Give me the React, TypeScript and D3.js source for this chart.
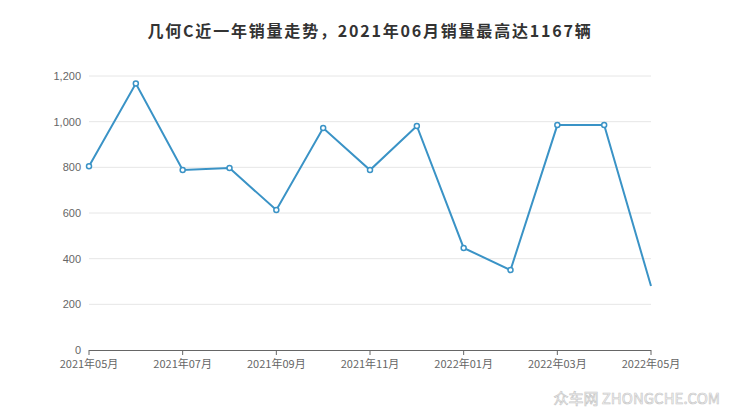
import React from "react";
import * as d3 from "d3";

const months = ["2021年05月","2021年06月","2021年07月","2021年08月","2021年09月","2021年10月","2021年11月","2021年12月","2022年01月","2022年02月","2022年03月","2022年04月","2022年05月"];
const sales = [805, 1167, 788, 797, 613, 972, 788, 981, 447, 350, 985, 985, 280];
const yTicks = [0, 200, 400, 600, 800, 1000, 1200];
const title = "几何C近一年销量走势，2021年06月销量最高达1167辆";

const W = 740, H = 417;
const left = 89, right = 651, top = 76, bottom = 350;

export default function App() {
  const x = d3.scalePoint<string>().domain(months).range([left, right]);
  const y = d3.scaleLinear().domain([0, 1200]).range([bottom, top]);
  const line = d3.line<number>().x((_, i) => x(months[i])!).y(d => y(d));
  const fmt = d3.format(",");
  const font = "'Liberation Sans', Arial, sans-serif";
  return (
    <svg width={W} height={H} style={{ position: "absolute", left: 0, top: 0, background: "#fff" }} fontFamily={font}>
      <text x={370} y={37} textAnchor="middle" fontSize={16} fontWeight="bold" fill="#333" letterSpacing={1.8} fontFamily="'Noto Sans CJK SC', sans-serif">{title}</text>
      {yTicks.map(t => (
        <g key={t}>
          {t > 0 && <line x1={left} x2={right} y1={y(t)} y2={y(t)} stroke="#e6e6e6" strokeWidth={1} />}
          <text x={81} y={y(t) + 4} textAnchor="end" fontSize={11} fill="#666">{fmt(t)}</text>
        </g>
      ))}
      <line x1={left} x2={right} y1={bottom + 0.5} y2={bottom + 0.5} stroke="#666" strokeWidth={1} />
      {months.map((m, i) => i % 2 === 0 ? (
        <g key={m}>
          <line x1={x(m)! } x2={x(m)!} y1={bottom} y2={bottom + 5} stroke="#666" />
          <text x={x(m)!} y={bottom + 18} textAnchor="middle" fontSize={11} fill="#666" fontFamily="'Noto Sans CJK SC', sans-serif">{m}</text>
        </g>
      ) : null)}
      <path d={line(sales)!} fill="none" stroke="#3a93c6" strokeWidth={2} />
      {sales.slice(0, sales.length - 1).map((v, i) => (
        <circle key={i} cx={x(months[i])!} cy={y(v)} r={2.5} fill="#fff" stroke="#3a93c6" strokeWidth={1.5} />
      ))}
      <text x={720} y={404} textAnchor="end" fontSize={15} fill="#fff" stroke="#c8c8c8" strokeWidth={0.7} fontFamily="'Noto Sans CJK SC', sans-serif">众车网 ZHONGCHE.COM</text>
    </svg>
  );
}
